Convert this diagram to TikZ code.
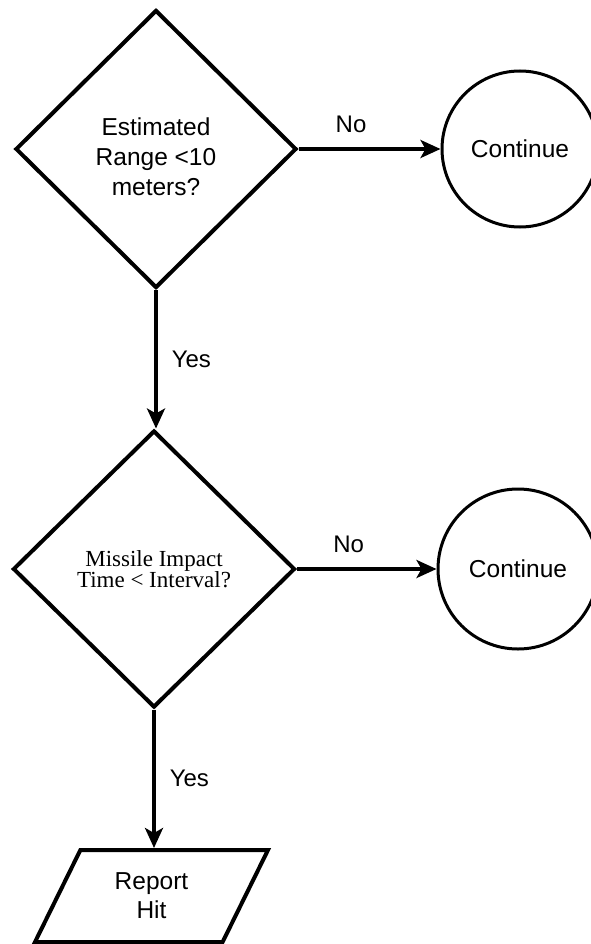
\documentclass[tikz,border=0pt]{standalone}
\usepackage{fontspec}
\setmainfont{Liberation Sans}
\newfontfamily\timesfont{Liberation Serif}
\usetikzlibrary{shapes.geometric,arrows.meta}
\begin{document}
\begin{tikzpicture}[x=1pt,y=-1pt,
  decision/.style={diamond, draw, line width=4pt, inner sep=0pt},
  endcircle/.style={circle, draw, line width=3pt, inner sep=0pt, font=\fontsize{24.5}{30}\selectfont},
  iobox/.style={trapezium, trapezium left angle=63, trapezium right angle=117, trapezium stretches=true, draw, line width=4pt, inner sep=0pt, align=center, font=\fontsize{24.5}{29}\selectfont},
  sanslabel/.style={font=\fontsize{24.5}{30}\selectfont, align=center, inner sep=0pt},
  seriflabel/.style={font=\timesfont\fontsize{23}{21}\selectfont, align=center, inner sep=0pt},
  flow/.style={-{Stealth[length=20pt,width=18pt,inset=5pt]}, line width=3.5pt},
  edgelabel/.style={font=\fontsize{24}{28}\selectfont, inner sep=0pt}]
\useasboundingbox (0,0) rectangle (591,944);
\clip (0,0) rectangle (591,944);
% first decision
\node[decision, minimum width=281pt, minimum height=278pt] (d1) at (156,149) {};
\node[sanslabel] (t1) at (156,157) {Estimated\\Range <10\\meters?};
\node[endcircle, minimum size=156pt] (c1) at (520,149) {Continue};
% second decision
\node[decision, minimum width=282pt, minimum height=277pt, seriflabel] (d2) at (154,569) {Missile Impact\\Time < Interval?};
\node[endcircle, minimum size=160pt] (c2) at (518,569) {Continue};
% report
\node[iobox, minimum width=233pt, minimum height=92pt] (p) at (151.5,896) {Report\\Hit};
% connectors
\draw[flow] (d1.east) -- node[edgelabel, pos=0.37, above=15pt]{No} (c1.west);
\draw[flow] (d2.east) -- node[edgelabel, pos=0.37, above=15pt]{No} (c2.west);
\draw[flow] (d1.south) -- node[edgelabel, midway, right=14pt]{Yes} (d1.south |- d2.north);
\draw[flow] (d2.south) -- node[edgelabel, midway, right=14pt]{Yes} (d2.south |- p.north);
\end{tikzpicture}
\end{document}
